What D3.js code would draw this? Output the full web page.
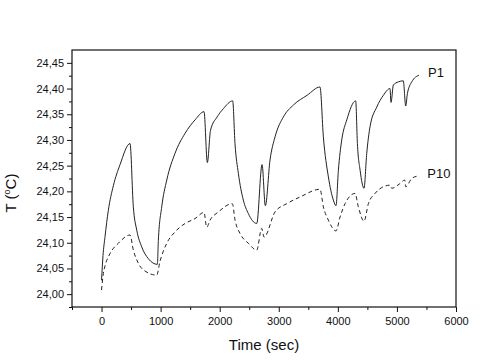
<!DOCTYPE html>
<html>
<head>
<meta charset="utf-8">
<script src="https://cdn.jsdelivr.net/npm/d3@7"></script>
<style>
  body { margin: 0; background: #fff; }
  svg { display: block; font-family: "Liberation Sans", Arial, sans-serif; }
</style>
</head>
<body>
<div id="chart"></div>
<script>
// [time (sec), T (°C)]
const p1 = [
  [0, 24.027], [25, 24.075], [59, 24.112], [115, 24.163], [200, 24.211], [313, 24.252], [482, 24.293],
  [538, 24.170], [596, 24.1245], [680, 24.092], [792, 24.069], [945, 24.058],
  [962, 24.105], [1019, 24.170], [1104, 24.222], [1244, 24.274], [1414, 24.313], [1583, 24.339], [1735, 24.355],
  [1791, 24.256],
  [1845, 24.319], [1958, 24.345], [2063, 24.361], [2220, 24.376],
  [2259, 24.293], [2316, 24.235], [2400, 24.183], [2484, 24.157], [2627, 24.1375],
  [2717, 24.252], [2773, 24.172],
  [2852, 24.261], [2937, 24.306], [3079, 24.345], [3248, 24.368], [3481, 24.387], [3698, 24.403],
  [3755, 24.306], [3840, 24.228], [3924, 24.183], [3969, 24.172],
  [4009, 24.241], [4066, 24.300], [4151, 24.339], [4302, 24.376],
  [4331, 24.293], [4377, 24.241], [4443, 24.206],
  [4489, 24.274], [4545, 24.326], [4659, 24.364], [4771, 24.387], [4883, 24.400],
  [4900, 24.373], [4940, 24.407], [5024, 24.413], [5108, 24.415],
  [5149, 24.366], [5177, 24.390], [5251, 24.413], [5374, 24.426]
];

const p10 = [
  [0, 24.008], [30, 24.040], [59, 24.055], [144, 24.079], [285, 24.099], [482, 24.115],
  [538, 24.086], [623, 24.060], [735, 24.045], [934, 24.037],
  [988, 24.063], [1104, 24.099], [1243, 24.121], [1414, 24.1375], [1583, 24.147], [1735, 24.159],
  [1780, 24.130],
  [1837, 24.144], [1978, 24.160], [2214, 24.176],
  [2260, 24.144], [2345, 24.118], [2485, 24.099], [2627, 24.0856],
  [2711, 24.128], [2750, 24.111],
  [2937, 24.160], [3135, 24.176], [3360, 24.189], [3698, 24.204],
  [3755, 24.170], [3840, 24.144], [3969, 24.123],
  [4037, 24.150], [4122, 24.176], [4291, 24.196],
  [4347, 24.170], [4443, 24.142],
  [4517, 24.176], [4630, 24.196], [4771, 24.209], [4883, 24.212],
  [4911, 24.206], [5049, 24.215], [5132, 24.222],
  [5149, 24.209], [5251, 24.225], [5362, 24.230]
];

const xMajor = [0, 1000, 2000, 3000, 4000, 5000, 6000];
const xMinor = [-500, 500, 1500, 2500, 3500, 4500, 5500];
const yMajor = [24.00, 24.05, 24.10, 24.15, 24.20, 24.25, 24.30, 24.35, 24.40, 24.45];
const yMinor = [23.975, 24.025, 24.075, 24.125, 24.175, 24.225, 24.275, 24.325, 24.375, 24.425];

const width = 502;
const height = 363;
const plot = { left: 72, right: 456, top: 50, bottom: 307 };

const svg = d3.select("#chart").append("svg")
  .attr("width", width)
  .attr("height", height);

const x = d3.scaleLinear().domain([-500, 6000]).range([plot.left, plot.right]);
const y = d3.scaleLinear().domain([23.975, 24.475]).range([plot.bottom, plot.top]);

const commaFmt = d => d3.format(".2f")(d).replace(".", ",");

// axes
svg.append("g")
  .attr("transform", `translate(${plot.left},0)`)
  .call(d3.axisLeft(y).tickValues(yMajor).tickSize(5).tickPadding(3).tickFormat(commaFmt));
svg.append("g")
  .attr("transform", `translate(${plot.left},0)`)
  .call(d3.axisLeft(y).tickValues(yMinor).tickSize(3).tickFormat(""));

svg.append("g")
  .attr("transform", `translate(0,${plot.bottom})`)
  .call(d3.axisBottom(x).tickValues(xMajor).tickSize(5).tickPadding(5).tickFormat(d3.format("d")));
svg.append("g")
  .attr("transform", `translate(0,${plot.bottom})`)
  .call(d3.axisBottom(x).tickValues(xMinor).tickSize(3).tickFormat(""));

svg.selectAll(".domain").remove();
svg.selectAll(".tick line").attr("stroke", "#111");
svg.selectAll(".tick text")
  .style("font-size", "11px")
  .style("font-family", "'Liberation Sans', Arial, sans-serif")
  .attr("fill", "#111");

// frame
svg.append("rect")
  .attr("x", plot.left)
  .attr("y", plot.top)
  .attr("width", plot.right - plot.left)
  .attr("height", plot.bottom - plot.top)
  .attr("fill", "none")
  .attr("stroke", "#111")
  .attr("stroke-width", 1.2);

// lines
const line = d3.line()
  .x(d => x(d[0]))
  .y(d => y(d[1]))
  .curve(d3.curveMonotoneX);

svg.append("path")
  .datum(p1)
  .attr("d", line)
  .attr("fill", "none")
  .attr("stroke", "#222")
  .attr("stroke-width", 1);

svg.append("path")
  .datum(p10)
  .attr("d", line)
  .attr("fill", "none")
  .attr("stroke", "#222")
  .attr("stroke-width", 1)
  .attr("stroke-dasharray", "4,3");

// series labels
svg.append("text")
  .attr("x", x(5374) + 9)
  .attr("y", 77)
  .style("font-size", "13px")
  .attr("fill", "#111")
  .text("P1");

svg.append("text")
  .attr("x", x(5362) + 9)
  .attr("y", 178)
  .style("font-size", "13px")
  .attr("fill", "#111")
  .text("P10");

// axis titles
svg.append("text")
  .attr("x", (plot.left + plot.right) / 2)
  .attr("y", 350)
  .attr("text-anchor", "middle")
  .style("font-size", "15px")
  .attr("fill", "#111")
  .text("Time (sec)");

const yTitle = svg.append("text")
  .attr("transform", "translate(16,193) rotate(-90)")
  .attr("text-anchor", "middle")
  .style("font-size", "15px")
  .attr("fill", "#111");
yTitle.append("tspan").text("T (");
yTitle.append("tspan").attr("dy", -6).style("font-size", "9px").text("o");
yTitle.append("tspan").attr("dy", 6).text("C)");
</script>
</body>
</html>
